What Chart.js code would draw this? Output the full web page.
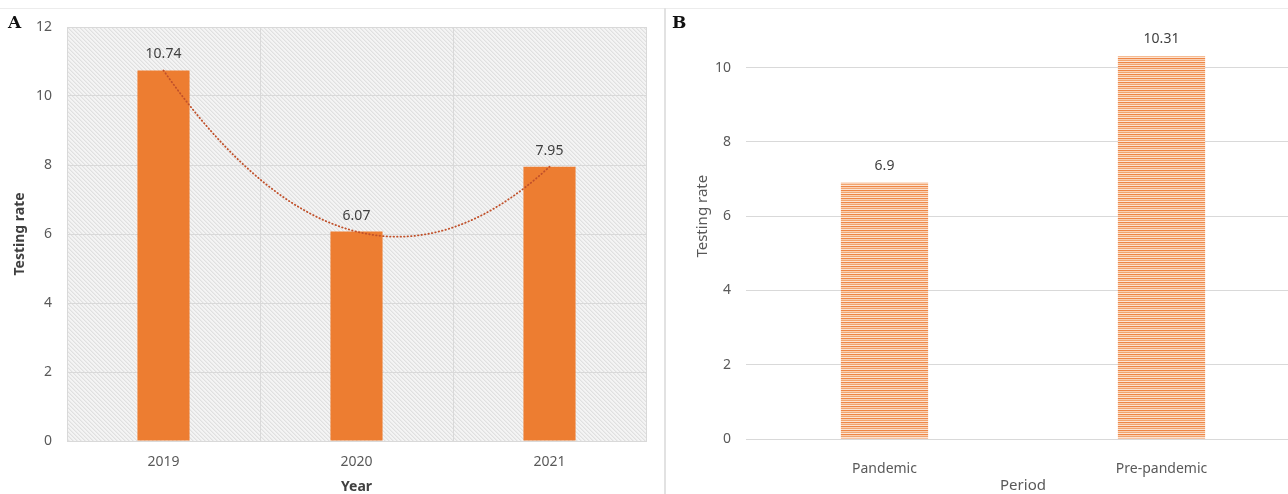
<!DOCTYPE html>
<html>
<head>
<meta charset="utf-8">
<script src="https://cdn.jsdelivr.net/npm/chart.js@4.4.1/dist/chart.umd.min.js"></script>
<style>
  html, body { margin: 0; padding: 0; background: #fff; }
  body { width: 1288px; height: 494px; position: relative; overflow: hidden; font-family: "Noto Sans", sans-serif; }
  #wrapA { position: absolute; left: 0; top: 0; width: 660px; height: 494px; }
  #wrapB { position: absolute; left: 668px; top: -30px; width: 640px; height: 524px; }
  .tag { position: absolute; font-family: "DejaVu Serif", "Liberation Serif", serif; font-weight: bold; font-size: 17px; color: #111; }
  #topRule { position: absolute; left: 0; top: 8px; width: 1288px; height: 1px; background: #ececec; }
  #divider { position: absolute; left: 664px; top: 8px; width: 2px; height: 486px; background: #e2e2e2; }
</style>
</head>
<body>
<div id="topRule"></div>
<div id="divider"></div>
<div id="wrapA"><canvas id="chartA" width="660" height="494"></canvas></div>
<div id="wrapB"><canvas id="chartB" width="640" height="524"></canvas></div>
<div class="tag" style="left:8px;top:12px;">A</div>
<div class="tag" style="left:672px;top:12px;">B</div>
<script>
// Panel A: testing rate by year
const years = ['2019', '2020', '2021'];
const rateByYear = [10.74, 6.07, 7.95];

// Panel B: testing rate by period
const periods = ['Pandemic', 'Pre-pandemic'];
const rateByPeriod = [6.9, 10.31];

const yTicks = { min: 0, max: 12, step: 2 };

const ORANGE = '#ED7D31';
const TICK_COLOR = '#595959';
const GRID_COLOR = '#d9d9d9';
const FONT = '"Noto Sans", sans-serif';

// light diagonal hatch used behind the plot area of panel A
function hatchPattern() {
  const c = document.createElement('canvas');
  c.width = 4; c.height = 4;
  const g = c.getContext('2d');
  g.fillStyle = '#f4f4f4';
  g.fillRect(0, 0, 4, 4);
  for (let i = 0; i < 4; i++) {
    g.fillStyle = '#e0e0e0';
    g.fillRect(i, i, 1, 1);
    g.fillStyle = '#ebebeb';
    g.fillRect((i + 1) % 4, i, 1, 1);
  }
  return g.createPattern(c, 'repeat');
}

// horizontal stripe fill for the bars of panel B
function stripePattern(ctx) {
  const c = document.createElement('canvas');
  c.width = 4; c.height = 4;
  const g = c.getContext('2d');
  const rows = ['#EE8646', '#F9D0B3', '#F2A46E', '#FCE4D3'];
  rows.forEach((col, i) => { g.fillStyle = col; g.fillRect(0, i, 4, 1); });
  return ctx.createPattern(c, 'repeat');
}

const plotBackground = {
  id: 'plotBackground',
  beforeDraw(chart, args, opts) {
    if (!opts.fill) return;
    const { ctx, chartArea: a } = chart;
    ctx.save();
    ctx.fillStyle = opts.fill;
    ctx.fillRect(a.left, a.top, a.right - a.left, a.bottom - a.top);
    ctx.restore();
  }
};

// value labels above each bar
const barValues = {
  id: 'barValues',
  afterDatasetsDraw(chart, args, opts) {
    const { ctx } = chart;
    const ds = chart.data.datasets[0];
    const meta = chart.getDatasetMeta(0);
    ctx.save();
    ctx.font = '14px ' + FONT;
    ctx.fillStyle = '#404040';
    ctx.textAlign = 'center';
    ctx.textBaseline = 'middle';
    meta.data.forEach((el, i) => {
      ctx.fillText(String(ds.data[i]), el.x, el.y - (opts.offset || 15));
    });
    ctx.restore();
  }
};

// second-order polynomial trendline through the year values
function quadFit(ys) {
  const n = ys.length;
  let s = [0, 0, 0, 0, 0], t = [0, 0, 0];
  for (let i = 0; i < n; i++) {
    for (let k = 0; k < 5; k++) s[k] += Math.pow(i, k);
    for (let k = 0; k < 3; k++) t[k] += ys[i] * Math.pow(i, k);
  }
  // normal equations for c0 + c1 x + c2 x^2
  const M = [[s[0], s[1], s[2], t[0]], [s[1], s[2], s[3], t[1]], [s[2], s[3], s[4], t[2]]];
  for (let c = 0; c < 3; c++) {
    for (let r = c + 1; r < 3; r++) {
      const f = M[r][c] / M[c][c];
      for (let k = c; k < 4; k++) M[r][k] -= f * M[c][k];
    }
  }
  const x = [0, 0, 0];
  for (let r = 2; r >= 0; r--) {
    let v = M[r][3];
    for (let k = r + 1; k < 3; k++) v -= M[r][k] * x[k];
    x[r] = v / M[r][r];
  }
  return x;
}

const trendline = {
  id: 'trendline',
  afterDatasetsDraw(chart) {
    const xs = chart.scales.x, ys = chart.scales.y;
    const vals = chart.data.datasets[0].data;
    const [c0, c1, c2] = quadFit(vals);
    const p0 = xs.getPixelForValue(0), p1 = xs.getPixelForValue(1);
    const { ctx } = chart;
    ctx.save();
    ctx.strokeStyle = '#C0502A';
    ctx.lineWidth = 1.8;
    ctx.lineCap = 'round';
    ctx.setLineDash([0.5, 3]);
    ctx.beginPath();
    const last = vals.length - 1;
    for (let t = 0; t <= last + 1e-9; t += 0.02) {
      const v = c0 + c1 * t + c2 * t * t;
      const px = p0 + t * (p1 - p0), py = ys.getPixelForValue(v);
      if (t === 0) ctx.moveTo(px, py); else ctx.lineTo(px, py);
    }
    ctx.stroke();
    ctx.restore();
  }
};

const tickFont = { family: FONT, size: 14 };

new Chart(document.getElementById('chartA'), {
  type: 'bar',
  data: {
    labels: years,
    datasets: [{ data: rateByYear, backgroundColor: ORANGE, barPercentage: 0.27, categoryPercentage: 1 }]
  },
  options: {
    responsive: false,
    animation: false,
    layout: { padding: { top: 27, right: 14, left: 0, bottom: 0 } },
    plugins: {
      legend: { display: false },
      tooltip: { enabled: false },
      plotBackground: { fill: hatchPattern() },
      barValues: { offset: 16 }
    },
    scales: {
      x: {
        grid: { color: GRID_COLOR, drawTicks: false, offset: true },
        border: { color: GRID_COLOR },
        ticks: { color: TICK_COLOR, font: tickFont, padding: 13 },
        title: { display: true, text: 'Year', color: '#404040', font: { family: FONT, size: 14, weight: 'bold' }, padding: { top: 0, bottom: -1 } },
        afterFit(s) { s.height = 53; }
      },
      y: {
        min: yTicks.min, max: yTicks.max,
        grid: { color: GRID_COLOR, drawTicks: false },
        border: { color: GRID_COLOR },
        ticks: { stepSize: yTicks.step, color: TICK_COLOR, font: tickFont, padding: 15 },
        title: { display: true, text: 'Testing rate', color: '#404040', font: { family: FONT, size: 14, weight: 'bold' }, padding: { top: 12, bottom: 0 } },
        afterFit(s) { s.width = 67; }
      }
    }
  },
  plugins: [plotBackground, barValues, trendline]
});

const ctxB = document.getElementById('chartB').getContext('2d');
new Chart(ctxB, {
  type: 'bar',
  data: {
    labels: periods,
    datasets: [{ data: rateByPeriod, backgroundColor: stripePattern(ctxB), barPercentage: 0.315, categoryPercentage: 1 }]
  },
  options: {
    responsive: false,
    animation: false,
    layout: { padding: { top: 19, right: 8, left: 0, bottom: 0 } },
    plugins: {
      legend: { display: false },
      tooltip: { enabled: false },
      barValues: { offset: 17 }
    },
    scales: {
      x: {
        grid: { display: false },
        border: { display: false },
        ticks: { color: TICK_COLOR, font: tickFont, padding: 14 },
        title: { display: true, text: 'Period', color: TICK_COLOR, font: { family: FONT, size: 15 }, padding: { top: 0, bottom: -1 } },
        afterFit(s) { s.height = 55; }
      },
      y: {
        min: yTicks.min, max: yTicks.max,
        grid: { color: GRID_COLOR, drawTicks: false },
        border: { display: false },
        ticks: { stepSize: yTicks.step, color: TICK_COLOR, font: tickFont, padding: 15 },
        title: { display: true, text: 'Testing rate', color: TICK_COLOR, font: { family: FONT, size: 15 }, padding: { top: 26, bottom: 0 } },
        afterFit(s) { s.width = 78; }
      }
    }
  },
  plugins: [barValues]
});
</script>
</body>
</html>
